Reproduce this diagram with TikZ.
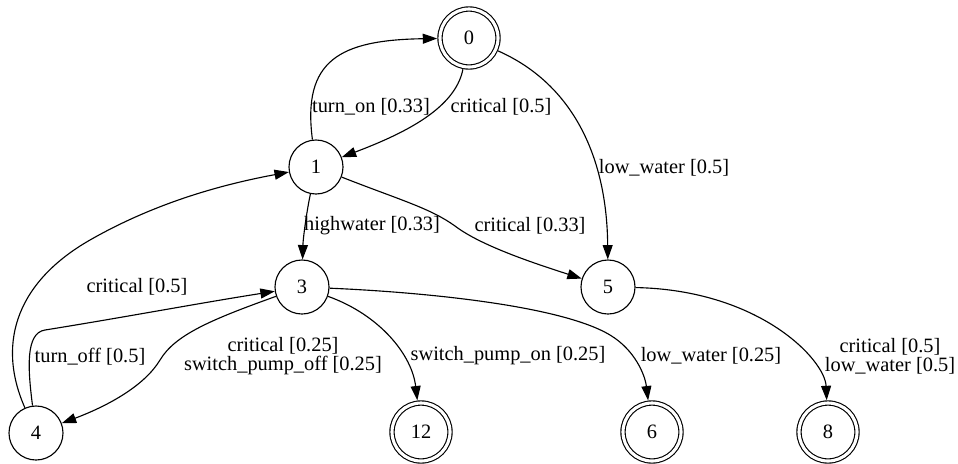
\documentclass[tikz,border=0pt]{standalone}
\usepackage{fontspec}
\setmainfont{Liberation Serif}
\usetikzlibrary{arrows.meta}

\begin{document}
\begin{tikzpicture}[x=0.025cm, y=-0.025cm, line width=0.8pt]
        \tikzset{
            statenode/.style={draw, circle, minimum size=1.35cm, inner sep=0pt, font=\fontsize{14.5}{16}\selectfont},
            acceptnode/.style={statenode, double, double distance=2.2pt, minimum size=1.45cm, outer sep=2pt},
            transedge/.style={-{Triangle[length=3.6mm, width=2.5mm]}},
            translabel/.style={align=center, inner sep=0pt, font=\fontsize{14.5}{13.5}\selectfont}
        }
        \useasboundingbox (0,0) rectangle (958,463);

        % --- STATES ---
        \node[acceptnode] (n0) at (469,38) {0};
        \node[statenode] (n1) at (316,167) {1};
        \node[statenode] (n3) at (302,287) {3};
        \node[statenode] (n5) at (608,287) {5};
        \node[statenode] (n4) at (36,433) {4};
        \node[acceptnode] (n12) at (421,432) {12};
        \node[acceptnode] (n6) at (652,432) {6};
        \node[acceptnode] (n8) at (828,432) {8};

        % --- TRANSITIONS ---
        \draw[transedge] (n1) .. controls (302,60) and (340,40) .. (n0);
        \draw[transedge] (n0) .. controls (455,110) and (400,135) .. (n1);
        \draw[transedge] (n0) .. controls (575,85) and (607,160) .. (n5);
        \draw[transedge] (n1) .. controls (306,215) and (303,240) .. (n3);
        \draw[transedge] (n1) .. controls (400,200) and (430,208) .. (455,226)
            .. controls (480,245) and (530,262) .. (n5);
        \draw[transedge] (n4) .. controls (-5,340) and (20,280) .. (90,240)
            .. controls (160,200) and (230,183) .. (n1);
        \draw[transedge] (n4) .. controls (28,370) and (25,333) .. (45,330)
            .. controls (120,318) and (200,303) .. (n3);
        \draw[transedge] (n3) .. controls (210,320) and (175,335) .. (160,360)
            .. controls (145,385) and (110,405) .. (n4);
        \draw[transedge] (n3) .. controls (380,315) and (412,355) .. (n12);
        \draw[transedge] (n3) .. controls (420,292) and (560,305) .. (610,335)
            .. controls (635,350) and (645,375) .. (n6);
        \draw[transedge] (n5) .. controls (760,290) and (825,360) .. (n8);

        % --- LABELS ---
        \node[translabel] (l10) at (371,107) {turn\_on [0.33]};
        \node[translabel] (l01) at (501,107) {critical [0.5]};
        \node[translabel] (l05) at (664,168) {low\_water [0.5]};
        \node[translabel] (l13) at (372,226) {highwater [0.33]};
        \node[translabel] (l15) at (530,226) {critical [0.33]};
        \node[translabel] (l41) at (137,287) {critical [0.5]};
        \node[translabel] (l43) at (90,357) {turn\_off [0.5]};
        \node[translabel] (l34) at (283,356) {critical [0.25]\\switch\_pump\_off [0.25]};
        \node[translabel] (l312) at (508,356) {switch\_pump\_on [0.25]};
        \node[translabel] (l36) at (711,356) {low\_water [0.25]};
        \node[translabel] (l58) at (890,356) {critical [0.5]\\low\_water [0.5]};

    \end{tikzpicture}
\end{document}
